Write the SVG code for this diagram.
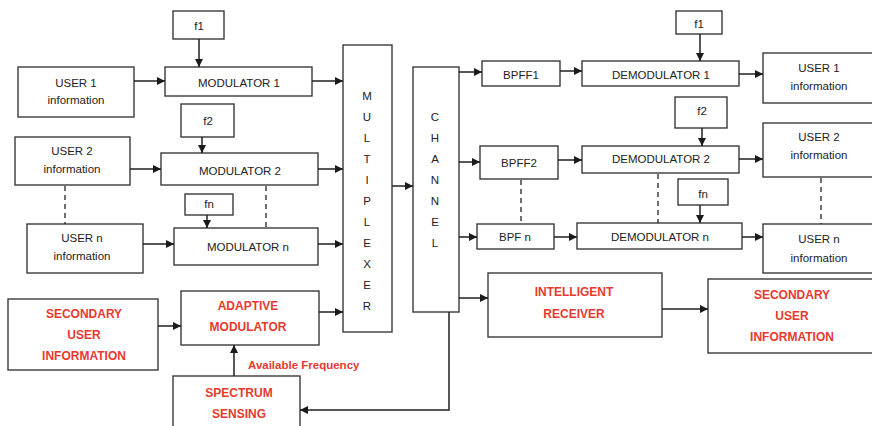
<svg xmlns="http://www.w3.org/2000/svg" width="872" height="426" viewBox="0 0 872 426">
  <defs>
    <marker id="arrow" viewBox="0 0 10 10" refX="10" refY="5" markerWidth="9" markerHeight="8" markerUnits="userSpaceOnUse" orient="auto">
      <path d="M0,0 L10,5 L0,10 z" fill="#1a1a1a"/>
    </marker>
    <style>
      .box { fill: #ffffff; stroke: #3a3a3a; stroke-width: 1.4; }
      .t { font-family: "Liberation Sans", Arial, sans-serif; font-size: 11.5px; fill: #222222; text-anchor: middle; }
      .r { font-family: "Liberation Sans", Arial, sans-serif; font-size: 12px; font-weight: bold; fill: #e8392f; text-anchor: middle; }
      .w { stroke: #1f1f1f; stroke-width: 1.5; fill: none; }
      .a { marker-end: url(#arrow); }
      .d { stroke: #333333; stroke-width: 1.4; stroke-dasharray: 5 4; fill: none; }
    </style>
  </defs>
  <rect width="872" height="426" fill="#ffffff"/>

  <!-- transmitter side -->
  <g id="f1-tx"><rect class="box" x="173" y="11" width="51" height="28"/><text class="t" x="199" y="30">f1</text></g>
  <g id="user1-tx"><rect class="box" x="18" y="67" width="116" height="50"/><text class="t" x="76" y="87">USER 1</text><text class="t" x="76" y="104">information</text></g>
  <g id="mod1"><rect class="box" x="165" y="67" width="147" height="29"/><text class="t" x="239" y="87">MODULATOR 1</text></g>
  <g id="f2-tx"><rect class="box" x="181" y="104" width="53" height="33"/><text class="t" x="208" y="125">f2</text></g>
  <g id="user2-tx"><rect class="box" x="15" y="137" width="115" height="48"/><text class="t" x="72" y="155">USER 2</text><text class="t" x="72" y="173">information</text></g>
  <g id="mod2"><rect class="box" x="161" y="153" width="157" height="32"/><text class="t" x="240" y="175">MODULATOR 2</text></g>
  <g id="fn-tx"><rect class="box" x="185" y="194" width="48" height="21"/><text class="t" x="209" y="208">fn</text></g>
  <g id="usern-tx"><rect class="box" x="27" y="224" width="116" height="49"/><text class="t" x="82" y="242">USER n</text><text class="t" x="82" y="260">information</text></g>
  <g id="modn"><rect class="box" x="174" y="228" width="144" height="37"/><text class="t" x="248" y="251">MODULATOR n</text></g>
  <g id="su-info-tx"><rect class="box" x="8" y="299" width="150" height="71"/><text class="r" x="84" y="318">SECONDARY</text><text class="r" x="84" y="339">USER</text><text class="r" x="84" y="360">INFORMATION</text></g>
  <g id="adaptive-mod"><rect class="box" x="181" y="291" width="138" height="54"/><text class="r" x="248" y="310">ADAPTIVE</text><text class="r" x="248" y="331">MODULATOR</text></g>
  <g id="spectrum-sensing"><rect class="box" x="173" y="376" width="127" height="60"/><text class="r" x="239" y="397">SPECTRUM</text><text class="r" x="239" y="418">SENSING</text></g>

  <g id="multiplexer"><rect class="box" x="343" y="45" width="49" height="287"/>
    <text class="t" x="367" y="100">M</text><text class="t" x="367" y="121">U</text><text class="t" x="367" y="142">L</text><text class="t" x="367" y="163">T</text><text class="t" x="367" y="184">I</text><text class="t" x="367" y="205">P</text><text class="t" x="367" y="226">L</text><text class="t" x="367" y="247">E</text><text class="t" x="367" y="268">X</text><text class="t" x="367" y="289">E</text><text class="t" x="367" y="310">R</text>
  </g>
  <g id="channel"><rect class="box" x="413" y="67" width="46" height="245"/>
    <text class="t" x="435" y="121">C</text><text class="t" x="435" y="142">H</text><text class="t" x="435" y="163">A</text><text class="t" x="435" y="184">N</text><text class="t" x="435" y="205">N</text><text class="t" x="435" y="226">E</text><text class="t" x="435" y="247">L</text>
  </g>

  <!-- receiver side -->
  <g id="bpff1"><rect class="box" x="482" y="61" width="78" height="25"/><text class="t" x="521" y="79">BPFF1</text></g>
  <g id="demod1"><rect class="box" x="582" y="61" width="157" height="25"/><text class="t" x="661" y="79">DEMODULATOR 1</text></g>
  <g id="f1-rx"><rect class="box" x="676" y="11" width="46" height="23"/><text class="t" x="699" y="28">f1</text></g>
  <g id="user1-rx"><rect class="box" x="763" y="53" width="112" height="50"/><text class="t" x="819" y="72">USER 1</text><text class="t" x="819" y="90">information</text></g>
  <g id="f2-rx"><rect class="box" x="675" y="97" width="52" height="31"/><text class="t" x="702" y="115">f2</text></g>
  <g id="bpff2"><rect class="box" x="480" y="146" width="78" height="33"/><text class="t" x="519" y="167">BPFF2</text></g>
  <g id="demod2"><rect class="box" x="582" y="146" width="157" height="27"/><text class="t" x="661" y="163">DEMODULATOR 2</text></g>
  <g id="user2-rx"><rect class="box" x="763" y="123" width="112" height="54"/><text class="t" x="819" y="141">USER 2</text><text class="t" x="819" y="159">information</text></g>
  <g id="fn-rx"><rect class="box" x="678" y="179" width="50" height="26"/><text class="t" x="703" y="198">fn</text></g>
  <g id="bpfn"><rect class="box" x="477" y="224" width="77" height="25"/><text class="t" x="515" y="241">BPF n</text></g>
  <g id="demodn"><rect class="box" x="577" y="223" width="165" height="26"/><text class="t" x="660" y="241">DEMODULATOR n</text></g>
  <g id="usern-rx"><rect class="box" x="763" y="224" width="112" height="49"/><text class="t" x="819" y="243">USER n</text><text class="t" x="819" y="262">information</text></g>
  <g id="intelligent-receiver"><rect class="box" x="488" y="273" width="174" height="64"/><text class="r" x="574" y="296">INTELLIGENT</text><text class="r" x="574" y="318">RECEIVER</text></g>
  <g id="su-info-rx"><rect class="box" x="708" y="279" width="167" height="74"/><text class="r" x="792" y="299">SECONDARY</text><text class="r" x="792" y="320">USER</text><text class="r" x="792" y="341">INFORMATION</text></g>

  <text id="available-frequency" x="248" y="369" font-family="Liberation Sans, Arial, sans-serif" font-size="11.5" font-weight="bold" fill="#e8392f">Available Frequency</text>

  <g id="connectors">
    <path class="w a" d="M199,39 V67"/>
    <path class="w a" d="M134,81 H165"/>
    <path class="w a" d="M312,81 H343"/>
    <path class="w a" d="M202,137 V153"/>
    <path class="w a" d="M130,169 H161"/>
    <path class="w a" d="M318,169 H343"/>
    <path class="d" d="M65,186 V224"/>
    <path class="d" d="M266,186 V228"/>
    <path class="w a" d="M207,215 V228"/>
    <path class="w a" d="M143,244 H174"/>
    <path class="w a" d="M318,244 H343"/>
    <path class="w a" d="M158,326 H181"/>
    <path class="w a" d="M319,312 H343"/>
    <path class="w a" d="M234,376 V345"/>
    <path class="w a" d="M392,186 H413"/>
    <path class="w a" d="M459,72 H482"/>
    <path class="w a" d="M459,162 H480"/>
    <path class="w a" d="M459,237 H477"/>
    <path class="w a" d="M459,298 H488"/>
    <path class="w a" d="M449,312 V410 H300"/>
    <path class="w a" d="M560,71 H582"/>
    <path class="w a" d="M700,34 V61"/>
    <path class="w a" d="M739,74 H763"/>
    <path class="w a" d="M702,128 V146"/>
    <path class="w a" d="M558,160 H582"/>
    <path class="w a" d="M739,159 H763"/>
    <path class="d" d="M521,180 V224"/>
    <path class="d" d="M658,174 V223"/>
    <path class="w a" d="M700,205 V223"/>
    <path class="d" d="M821,178 V224"/>
    <path class="w a" d="M554,237 H577"/>
    <path class="w a" d="M742,237 H763"/>
    <path class="w a" d="M662,309 H708"/>
  </g>
</svg>
